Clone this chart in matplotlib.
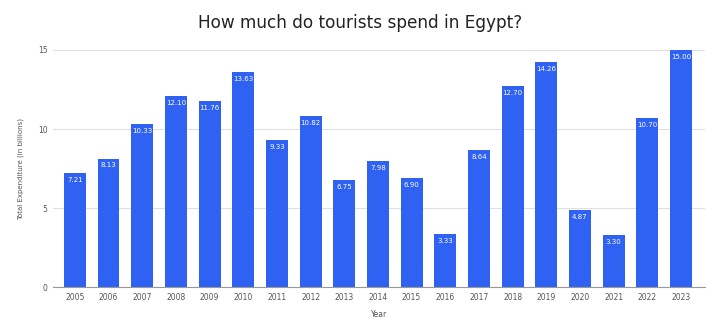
import matplotlib
matplotlib.use("Agg")
import matplotlib.pyplot as plt

years = [str(y) for y in range(2005, 2024)]
spend = [7.21, 8.13, 10.33, 12.10, 11.76, 13.63, 9.33, 10.82, 6.75, 7.98,
         6.90, 3.33, 8.64, 12.70, 14.26, 4.87, 3.30, 10.70, 15.00]
yticks = [0, 5, 10, 15]

bar_color = "#2f62f2"

fig = plt.figure(figsize=(7.2, 3.34), dpi=100)
ax = fig.add_axes([0.0736, 0.1407, 0.905, 0.7096])

x = list(range(len(years)))
bars = ax.bar(x, spend, width=0.65, color=bar_color, zorder=3)

for xi, v in zip(x, spend):
    ax.text(xi, v - 0.25, f"{v:.2f}", ha="center", va="top",
            color="white", fontsize=5, zorder=4)

ax.set_xlim(-0.65, len(years) - 0.3)
ax.set_ylim(0, 15)
ax.set_yticks(yticks)
ax.set_yticklabels([str(t) for t in yticks], fontsize=5.5, color="#555555")
ax.set_xticks(x)
ax.set_xticklabels(years, fontsize=5.5, color="#555555")
ax.tick_params(length=0, pad=4)

ax.grid(axis="y", color="#e0e0e0", linewidth=0.8, zorder=0)
for s in ["top", "right", "left"]:
    ax.spines[s].set_visible(False)
ax.spines["bottom"].set_color("#999999")
ax.spines["bottom"].set_linewidth(0.8)
ax.spines["bottom"].set_zorder(5)

ax.set_xlabel("Year", fontsize=5.5, color="#555555", labelpad=6)
ax.set_ylabel("Total Expenditure (in billions)", fontsize=5, color="#555555", labelpad=10)

fig.text(0.5, 0.932, "How much do tourists spend in Egypt?", ha="center", va="center",
         fontsize=12.2, color="#222222")

fig.savefig("out.png", dpi=100)
